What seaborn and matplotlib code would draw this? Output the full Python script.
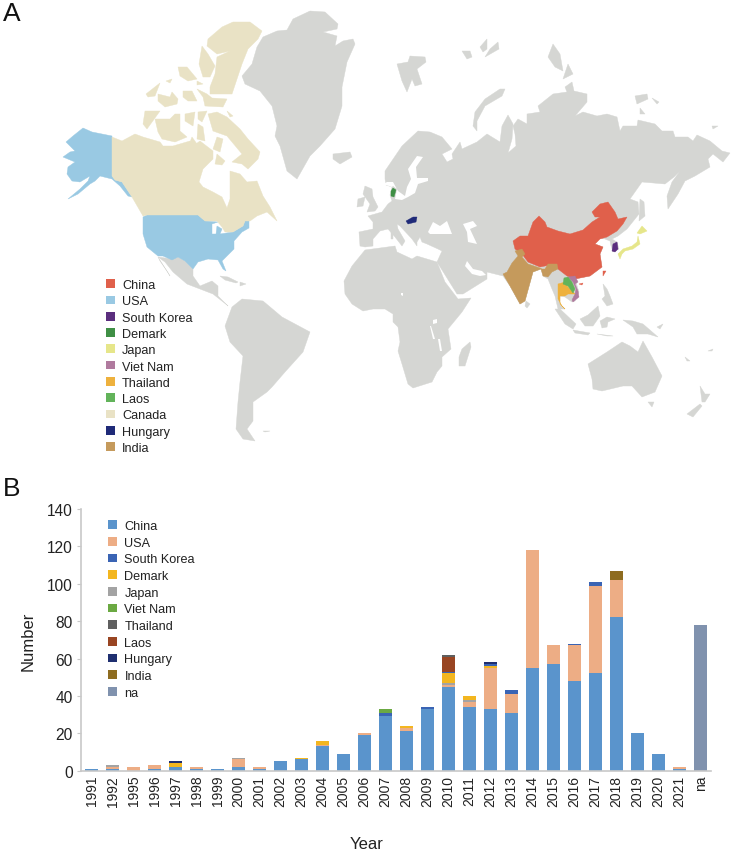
import matplotlib
matplotlib.use("Agg")
import numpy as np
import pandas as pd
import seaborn as sns
import matplotlib.pyplot as plt
from matplotlib.patches import Patch

sns.set_style("white")
plt.rcParams['font.family'] = ['Liberation Sans', 'DejaVu Sans']

# -------------------------- Bar chart data --------------------------
years = ['1991', '1992', '1995', '1996', '1997', '1998', '1999', '2000', '2001', '2002',
         '2003', '2004', '2005', '2006', '2007', '2008', '2009', '2010', '2011', '2012',
         '2013', '2014', '2015', '2016', '2017', '2018', '2019', '2020', '2021', 'na']
china    = [1, 1, 0, 1, 2, 1, 1, 2, 1, 5, 6, 13, 9, 19, 29, 21, 33, 45, 34, 33, 31, 55, 57, 48, 52, 82, 20, 9, 1, 0]
usa      = [0, 1, 2, 2, 0, 1, 0, 4, 1, 0, 0, 1, 0, 1, 0, 2, 0, 1, 3, 22, 10, 63, 10, 19, 47, 20, 0, 0, 1, 0]
japan    = [0, 1, 0, 0, 0, 0, 0, 1, 0, 0, 0, 0, 0, 0, 0, 0, 0, 1, 1, 0, 0, 0, 0, 0, 0, 0, 0, 0, 0, 0]
demark   = [0, 0, 0, 0, 2, 0, 0, 0, 0, 0, 1, 2, 0, 0, 0, 1, 0, 5, 2, 1, 0, 0, 0, 0, 0, 0, 0, 0, 0, 0]
korea    = [0, 0, 0, 0, 0, 0, 0, 0, 0, 0, 0, 0, 0, 0, 2, 0, 1, 1, 0, 1, 2, 0, 0, 1, 2, 0, 0, 0, 0, 0]
vietnam  = [0, 0, 0, 0, 0, 0, 0, 0, 0, 0, 0, 0, 0, 0, 2, 0, 0, 0, 0, 0, 0, 0, 0, 0, 0, 0, 0, 0, 0, 0]
laos     = [0, 0, 0, 0, 0, 0, 0, 0, 0, 0, 0, 0, 0, 0, 0, 0, 0, 8, 0, 0, 0, 0, 0, 0, 0, 0, 0, 0, 0, 0]
thailand = [0, 0, 0, 0, 0, 0, 0, 0, 0, 0, 0, 0, 0, 0, 0, 0, 0, 1, 0, 0, 0, 0, 0, 0, 0, 0, 0, 0, 0, 0]
hungary  = [0, 0, 0, 0, 1, 0, 0, 0, 0, 0, 0, 0, 0, 0, 0, 0, 0, 0, 0, 1, 0, 0, 0, 0, 0, 0, 0, 0, 0, 0]
india    = [0, 0, 0, 0, 0, 0, 0, 0, 0, 0, 0, 0, 0, 0, 0, 0, 0, 0, 0, 0, 0, 0, 0, 0, 0, 5, 0, 0, 0, 0]
na_vals  = [0, 0, 0, 0, 0, 0, 0, 0, 0, 0, 0, 0, 0, 0, 0, 0, 0, 0, 0, 0, 0, 0, 0, 0, 0, 0, 0, 0, 0, 78]

# stacking order in the bars is not the legend order
stack_names = ['China', 'USA', 'Japan', 'Demark', 'South Korea', 'Viet Nam', 'Laos', 'Thailand', 'Hungary', 'India', 'na']
stack_vals = [china, usa, japan, demark, korea, vietnam, laos, thailand, hungary, india, na_vals]
stack_colors = ['#5A94CC', '#EDAD85', '#A3A3A3', '#F3B61F', '#3A64B4', '#6BA942', '#994522', '#5F5F5F', '#1F2F70', '#8E6C20', '#8092AE']
bar_colors = dict(zip(stack_names, stack_colors))
bar_legend = ['China', 'USA', 'South Korea', 'Demark', 'Japan', 'Viet Nam', 'Thailand', 'Laos', 'Hungary', 'India', 'na']

# -------------------------- Map data (outlines) --------------------------
map_names = ['China', 'USA', 'South Korea', 'Demark', 'Japan', 'Viet Nam', 'Thailand', 'Laos', 'Canada', 'Hungary', 'India']
map_colors = ['#E0604B', '#99C9E3', '#5B2E7E', '#3F8F45', '#E6E68A', '#B07A9E', '#EEB13D', '#62B35A', '#E9E2C5', '#1F2A78', '#C59A5C']
gray = '#D5D6D3'

eurasia = [(359, 233), (373, 230), (373, 223), (368, 217), (382, 213), (388, 205), (392, 202), (390, 196), (392, 188),
           (386, 186), (385, 180), (385, 172), (402, 147), (418, 132), (430, 133), (442, 138), (452, 150), (442, 155),
           (447, 163), (453, 160), (452, 155), (460, 143), (462, 150), (477, 143), (487, 135), (500, 143), (502, 127),
           (508, 116), (513, 125), (512, 140), (508, 154), (516, 147), (515, 135), (513, 127), (518, 120), (527, 125),
           (527, 115), (540, 113), (538, 107), (553, 95), (567, 93), (565, 88), (572, 83), (574, 92), (587, 95),
           (587, 103), (575, 117), (583, 113), (597, 117), (607, 115), (617, 118), (620, 132), (623, 127), (637, 127),
           (638, 121), (655, 125), (662, 132), (673, 132), (675, 138), (688, 138), (693, 142), (697, 136), (710, 142),
           (722, 152), (730, 154), (723, 163), (713, 155), (708, 160), (710, 168), (695, 177), (685, 182), (678, 195),
           (668, 210), (667, 197), (672, 183), (680, 172), (674, 178), (665, 185), (642, 183), (630, 200), (638, 203),
           (639, 215), (627, 230), (618, 237), (612, 240), (617, 243), (619, 250), (613, 253), (611, 247), (610, 242),
           (605, 240), (600, 239), (595, 245), (603, 248), (600, 255), (602, 268), (590, 277), (575, 280), (579, 293),
           (575, 302), (572, 303), (565, 298), (560, 297), (560, 305), (565, 310), (558, 310), (555, 297), (552, 290),
           (548, 280), (543, 277), (541, 270), (533, 273), (525, 302), (520, 305), (510, 287), (503, 277), (487, 273),
           (487, 280), (463, 295), (457, 295), (437, 263), (442, 252), (438, 250), (427, 245), (422, 243), (420, 238),
           (417, 243), (417, 247), (412, 240), (400, 227), (397, 225), (398, 230), (405, 242), (402, 247), (395, 238),
           (388, 230), (380, 232), (373, 240), (373, 247), (365, 248), (360, 247)]
africa = [(365, 251), (395, 247), (397, 253), (412, 260), (417, 257), (437, 263), (445, 283), (458, 300), (471, 299),
          (462, 313), (448, 330), (451, 350), (442, 358), (442, 367), (437, 373), (432, 383), (413, 389), (408, 385),
          (402, 365), (398, 352), (400, 343), (398, 328), (393, 323), (393, 315), (385, 310), (373, 310), (363, 312),
          (352, 305), (345, 295), (344, 282), (352, 267)]
south_america = [(242, 300), (263, 302), (282, 318), (310, 333), (303, 353), (285, 373), (272, 388), (267, 393), (253, 403),
                 (253, 422), (247, 430), (255, 442), (243, 440), (236, 430), (238, 403), (240, 383), (243, 357), (230, 343),
                 (225, 327), (232, 308)]
central_america = [(158, 258), (172, 260), (178, 258), (185, 262), (193, 270), (193, 277), (200, 287), (212, 282), (218, 287),
                   (218, 297), (228, 307), (227, 306), (213, 295), (200, 290), (187, 285), (173, 273), (165, 263)]
baja = [(158, 258), (170, 277), (167, 272), (160, 262)]
greenland = [(293, 20), (310, 12), (325, 13), (338, 25), (337, 30), (323, 33), (337, 37), (335, 47), (343, 42), (353, 40),
             (355, 45), (347, 63), (342, 88), (342, 107), (335, 130), (320, 147), (310, 157), (297, 180), (287, 172),
             (280, 147), (275, 137), (277, 127), (272, 107), (260, 92), (245, 85), (242, 77), (252, 65), (257, 48),
             (263, 38), (277, 32), (287, 31)]
australia = [(588, 365), (607, 353), (622, 343), (630, 347), (638, 353), (643, 342), (652, 358), (662, 377), (655, 393),
             (642, 398), (632, 387), (623, 387), (602, 392), (593, 390), (592, 380)]
gray_islands = [
    [(333, 155), (350, 153), (352, 158), (340, 165), (333, 160)],  # Iceland
    [(365, 187), (372, 190), (373, 198), (378, 208), (375, 212), (367, 213), (370, 205), (363, 195)],
    [(358, 200), (365, 198), (363, 207), (357, 208)],
    [(391, 233), (393, 233), (393, 240), (391, 240)],
    [(470, 343), (471, 348), (465, 367), (459, 367), (459, 358), (462, 350)],  # Madagascar
    [(220, 277), (228, 278), (238, 283), (236, 284), (225, 281)],
    [(240, 283), (246, 285), (240, 287)],
    [(397, 65), (408, 63), (410, 57), (425, 58), (426, 63), (417, 70), (422, 85), (415, 87), (412, 80), (407, 93), (402, 82)],
    [(462, 52), (470, 52), (472, 58), (467, 60)],
    [(480, 48), (487, 40), (487, 50), (483, 53)],
    [(490, 50), (498, 43), (499, 50), (485, 58)],
    [(505, 90), (502, 97), (485, 107), (477, 122), (477, 132), (473, 127), (475, 113), (485, 100), (500, 90)],
    [(553, 45), (560, 55), (563, 72), (555, 68), (548, 58)],
    [(568, 65), (573, 75), (563, 80)],
    [(635, 97), (647, 95), (648, 100), (637, 105)],
    [(652, 99), (659, 103), (657, 105)],
    [(640, 109), (645, 115), (640, 115)],
    [(712, 127), (718, 127), (713, 130)],
    [(640, 200), (644, 203), (645, 217), (639, 222)],
    [(526, 302), (530, 305), (527, 309), (525, 307)],
    [(555, 310), (560, 310), (576, 325), (573, 330), (565, 325)],
    [(573, 331), (590, 334), (588, 336), (575, 334)],
    [(580, 320), (588, 316), (598, 307), (600, 317), (593, 327), (585, 327)],
    [(600, 322), (607, 318), (615, 320), (608, 323), (607, 328), (602, 329)],
    [(603, 285), (607, 290), (610, 297), (613, 305), (607, 307), (602, 300), (605, 297)],
    [(623, 321), (633, 322), (643, 325), (658, 338), (648, 335), (637, 335), (633, 328)],
    [(597, 335), (613, 337), (607, 337)],
    [(657, 328), (663, 325), (660, 330)],
    [(648, 403), (654, 403), (652, 408)],
    [(700, 387), (705, 395), (710, 395), (705, 403), (702, 403)],
    [(700, 405), (702, 407), (693, 418), (687, 415)],
    [(263, 432), (270, 432), (265, 433)],
    [(685, 358), (690, 362), (687, 362)],
    [(708, 352), (713, 350), (712, 352)],
]
# seas and lakes cut out of the gray land
water = [
    [(378, 188), (387, 183), (393, 183), (398, 192), (405, 197), (407, 188), (411, 180), (408, 170), (417, 157), (423, 158),
     (416, 168), (417, 179), (428, 179), (428, 182), (418, 185), (415, 194), (408, 198), (402, 201), (395, 200), (397, 190),
     (393, 187), (392, 188), (386, 186)],
    [(428, 233), (433, 223), (440, 227), (447, 222), (452, 235), (430, 235)],
    [(463, 225), (473, 222), (477, 227), (470, 230), (477, 245), (468, 243), (467, 233)],
    [(467, 262), (473, 270), (482, 272), (486, 276), (480, 277), (472, 275), (465, 267)],
    [(433, 321), (437, 320), (437, 324), (433, 325)],
    [(430, 327), (431, 327), (435, 340), (433, 340)],
    [(438, 340), (440, 340), (442, 352), (440, 352)],
    [(401, 294), (403, 294), (403, 297), (401, 296)],
]

usa_shapes = [
    [(83, 129), (92, 133), (112, 137), (112, 177), (115, 181), (122, 183), (132, 198), (128, 197), (120, 187), (112, 180),
     (100, 177), (95, 182), (90, 185), (78, 195), (68, 200), (80, 190), (88, 182), (90, 177), (80, 183), (72, 182), (67, 175),
     (68, 168), (75, 163), (63, 158), (70, 153), (75, 152), (66, 143), (73, 137)],
    [(143, 218), (147, 216), (198, 216), (205, 222), (218, 223), (212, 225), (212, 235), (216, 235), (217, 227), (222, 230),
     (220, 235), (233, 233), (243, 227), (245, 222), (249, 222), (249, 229), (242, 233), (234, 242), (234, 250), (227, 257),
     (222, 262), (226, 272), (223, 270), (218, 261), (208, 260), (198, 263), (193, 270), (185, 262), (178, 258), (172, 261),
     (163, 257), (158, 257), (147, 248), (143, 235)],
]
canada_shapes = [
    [(112, 138), (122, 142), (135, 135), (143, 138), (160, 143), (163, 147), (173, 147), (190, 142), (193, 147), (200, 142),
     (213, 152), (213, 160), (203, 170), (199, 183), (203, 188), (213, 193), (222, 198), (227, 209), (230, 200), (230, 172),
     (240, 175), (247, 183), (257, 182), (263, 197), (270, 208), (277, 222), (267, 213), (257, 217), (250, 222), (245, 222),
     (243, 227), (233, 233), (225, 233), (222, 228), (217, 222), (205, 222), (198, 216), (147, 216), (143, 217), (132, 198),
     (122, 183), (115, 181), (112, 177)],
    [(222, 28), (233, 23), (250, 23), (262, 32), (258, 40), (248, 50), (242, 65), (232, 95), (210, 95), (210, 88), (215, 75),
     (217, 58), (230, 52), (217, 55), (207, 47), (208, 40)],
    [(202, 47), (208, 55), (215, 67), (210, 78), (203, 78), (199, 65)],
    [(178, 68), (187, 68), (197, 80), (188, 82), (180, 77)],
    [(166, 82), (172, 80), (170, 84)],
    [(197, 82), (203, 85), (197, 86)],
    [(146, 95), (160, 84), (155, 97), (148, 98)],
    [(158, 95), (170, 98), (172, 93), (178, 100), (177, 105), (165, 108), (158, 102)],
    [(183, 92), (192, 92), (197, 102), (188, 102), (183, 98)],
    [(197, 90), (207, 95), (212, 99), (227, 100), (223, 108), (205, 107), (203, 98)],
    [(145, 112), (160, 112), (147, 130), (143, 125)],
    [(155, 120), (170, 120), (175, 115), (180, 115), (180, 132), (187, 138), (175, 143), (162, 140), (158, 133)],
    [(185, 115), (195, 113), (193, 127), (185, 122)],
    [(198, 113), (207, 112), (202, 123), (198, 120)],
    [(198, 125), (203, 128), (205, 142), (197, 140)],
    [(208, 115), (217, 113), (227, 118), (240, 130), (248, 140), (260, 153), (258, 160), (248, 170), (242, 165), (232, 163),
     (242, 155), (232, 143), (227, 137), (213, 132)],
    [(217, 155), (225, 162), (222, 166), (215, 165)],
    [(217, 138), (223, 140), (220, 153), (213, 150)],
    [(192, 138), (197, 145), (193, 148), (190, 143)],
    [(227, 112), (233, 117), (230, 118)],
]
china_shapes = [
    [(513, 242), (520, 237), (528, 237), (533, 223), (539, 217), (545, 223), (547, 228), (558, 232), (570, 235), (583, 231),
     (592, 223), (600, 218), (595, 218), (592, 213), (600, 205), (608, 203), (615, 213), (618, 220), (627, 218), (623, 225),
     (617, 232), (607, 238), (600, 240), (595, 245), (603, 248), (600, 255), (602, 268), (590, 277), (575, 280), (567, 277),
     (558, 270), (555, 265), (550, 266), (540, 268), (528, 263), (522, 255), (515, 250)],
    [(603, 272), (606, 272), (603, 277)],
    [(579, 285), (583, 284), (582, 286)],
]
india_shapes = [[(522, 250), (525, 255), (522, 258), (528, 265), (540, 269), (542, 270), (545, 270), (548, 265), (557, 265),
                 (558, 270), (552, 273), (548, 278), (543, 277), (541, 270), (533, 273), (525, 302), (520, 305), (510, 287),
                 (503, 275), (507, 273), (512, 264), (518, 257), (515, 252)]]
japan_shapes = [
    [(642, 227), (647, 232), (640, 235), (637, 234)],
    [(638, 237), (640, 245), (633, 250), (625, 252), (622, 255), (618, 255), (623, 250), (632, 247), (637, 243)],
    [(618, 255), (622, 255), (620, 260)],
]
korea_shapes = [[(613, 245), (617, 243), (618, 250), (615, 253), (612, 252)]]
denmark_shapes = [[(391, 192), (393, 189), (396, 191), (394, 198), (391, 197)]]
hungary_shapes = [[(406, 222), (413, 218), (417, 218), (416, 223), (408, 225)]]
thailand_shapes = [[(558, 285), (565, 283), (568, 288), (575, 295), (568, 295), (565, 297), (560, 297), (560, 305), (565, 310),
                    (562, 307), (558, 300), (558, 293)]]
laos_shapes = [[(564, 279), (568, 278), (572, 283), (575, 290), (573, 294), (568, 287), (563, 285)]]
vietnam_shapes = [[(568, 278), (575, 277), (578, 283), (575, 285), (578, 292), (579, 298), (573, 303), (572, 301), (575, 295),
                   (576, 290), (573, 283)]]
country_shapes = [china_shapes, usa_shapes, korea_shapes, denmark_shapes, japan_shapes, vietnam_shapes, thailand_shapes,
                  laos_shapes, canada_shapes, hungary_shapes, india_shapes]

# -------------------------- Figure --------------------------
fig = plt.figure(figsize=(7.33, 8.54), dpi=100)
W, H = 733, 854

# Map, drawn in pixel coordinates of the figure
ax_map = fig.add_axes([0, 0, 1, 1])
ax_map.set_xlim(0, W)
ax_map.set_ylim(H, 0)
ax_map.axis('off')

land = [eurasia, africa, south_america, central_america, baja, greenland, australia] + gray_islands
for shape in land:
    xs, ys = zip(*shape)
    ax_map.fill(xs, ys, color=gray, lw=0.3)
for shape in water:
    xs, ys = zip(*shape)
    ax_map.fill(xs, ys, color='white', lw=0)
for shapes, c in zip(country_shapes, map_colors):
    for shape in shapes:
        xs, ys = zip(*shape)
        ax_map.fill(xs, ys, color=c, lw=0.3)

map_handles = [Patch(facecolor=c, edgecolor='none', label=n) for n, c in zip(map_names, map_colors)]
ax_map.legend(handles=map_handles, loc='upper left', bbox_to_anchor=(101 / W, 1 - 275 / H), frameon=False,
              fontsize=9.1, handlelength=0.68, handleheight=0.68, handletextpad=0.6, labelspacing=0.34,
              borderpad=0.4, borderaxespad=0, labelcolor='#222222')

ax_map.text(3, 21, 'A', fontsize=19, color='#111111')
ax_map.text(3, 496, 'B', fontsize=19, color='#111111')

# Stacked bars
ax = fig.add_axes([81.2 / W, 1 - 771.7 / H, 630 / W, 261.7 / H])
ax.patch.set_alpha(0)
bottom = np.zeros(len(years))
for name, vals in zip(stack_names, stack_vals):
    df = pd.DataFrame({'Year': years, 'Number': vals})
    sns.barplot(data=df, x='Year', y='Number', order=years, color=bar_colors[name], saturation=1, width=0.635,
                bottom=bottom, linewidth=0, label=name, ax=ax)
    bottom = bottom + np.array(vals)

ax.set_xlim(-0.5, 29.5)
ax.set_ylim(0, 140)
ax.set_yticks(range(0, 141, 20))
ax.tick_params(axis='y', labelsize=11.2, length=3, width=0.8, color='#C8C8C8', pad=3, left=True, labelcolor='#222222')
ax.tick_params(axis='x', labelsize=10, length=0, rotation=90, pad=3, labelcolor='#222222')
sns.despine(ax=ax)
for side in ['left', 'bottom']:
    ax.spines[side].set_color('#C8C8C8')
    ax.spines[side].set_linewidth(1.2)
ax.set_xlabel('Year', fontsize=12, color='#222222', labelpad=0)
ax.set_ylabel('Number', fontsize=12, color='#222222', labelpad=0)
ax.xaxis.set_label_coords(0.4535, -0.25)
ax.yaxis.set_label_coords(-0.0717, 0.5)

handles = [Patch(facecolor=bar_colors[n], edgecolor='none', label=n) for n in bar_legend]
ax.legend(handles=handles, loc='upper left', bbox_to_anchor=(27 / 630, 1 - 11 / 261.7), frameon=False,
          fontsize=9.1, handlelength=0.68, handleheight=0.68, handletextpad=0.6, labelspacing=0.37,
          borderpad=0, borderaxespad=0, labelcolor='#222222')

fig.savefig('out.png', dpi=100)
